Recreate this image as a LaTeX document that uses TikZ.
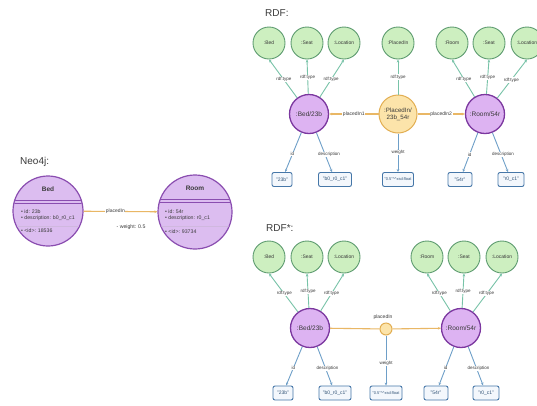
\documentclass[tikz,border=0pt]{standalone}
\usepackage{fontspec}
\setmainfont{Liberation Sans}
\usetikzlibrary{arrows.meta}
\definecolor{gfill}{HTML}{CDEFC0}
\definecolor{gborder}{HTML}{5E9C70}
\definecolor{gedgec}{HTML}{78C3A8}
\definecolor{pfill}{HTML}{DDB3F2}
\definecolor{pborder}{HTML}{7B379F}
\definecolor{nfill}{HTML}{DCBDF0}
\definecolor{nborder}{HTML}{8A4DB0}
\definecolor{ofill}{HTML}{FCE4AA}
\definecolor{oborder}{HTML}{E2AE52}
\definecolor{oedgec}{HTML}{E9B765}
\definecolor{bborder}{HTML}{4677A8}
\definecolor{bfill}{HTML}{F3F7FC}
\definecolor{bedgec}{HTML}{6E9FC8}
\definecolor{txt}{HTML}{3A3A3A}
\begin{document}
\begin{tikzpicture}[x=1pt,y=-1pt,
  gnode/.style={circle, draw=gborder, fill=gfill, line width=0.9pt, minimum size=32pt, inner sep=0pt, text=txt, font=\fontsize{5}{6}\selectfont},
  pnode/.style={circle, draw=pborder, fill=pfill, line width=1.3pt, minimum size=39pt, inner sep=0pt, text=txt, font=\fontsize{6.5}{7.5}\selectfont},
  onode/.style={circle, draw=oborder, fill=ofill, line width=1pt, minimum size=38pt, inner sep=0pt, align=center, text=txt, font=\fontsize{6.2}{7.2}\selectfont},
  odot/.style={circle, draw=oborder, fill=ofill, line width=1pt, minimum size=12pt, inner sep=0pt},
  lit/.style={draw=bborder, fill=bfill, rounded corners=2pt, line width=0.9pt, minimum height=14pt, inner sep=1pt, text=bborder!70!black, font=\fontsize{5}{6}\selectfont},
  gedge/.style={draw=gedgec, line width=0.9pt, -{Stealth[length=3pt,width=2.6pt]}},
  bedge/.style={draw=bedgec, line width=0.9pt, -{Stealth[length=3pt,width=2.6pt]}},
  oedge/.style={draw=oedgec, line width=1.1pt},
  oarrow/.style={oedge, -{Stealth[length=3pt,width=2.6pt]}},
  elab/.style={font=\fontsize{4.5}{5}\selectfont, fill=white, inner sep=0.5pt, text=txt},
  olab/.style={elab, font=\fontsize{5}{6}\selectfont},
  ttl/.style={anchor=west, inner sep=0pt, text=txt},
  neo/.style={circle, draw=nborder, fill=nfill, line width=1.2pt, inner sep=0pt},
  neot/.style={anchor=west, inner sep=0pt, align=left, text=txt, font=\fontsize{5.2}{6.2}\selectfont},
  neoh/.style={text=txt, font=\bfseries\fontsize{6.5}{7.5}\selectfont},
]
\clip (0,0) rectangle (537,405);
\fill[white] (0,0) rectangle (537,405);

% ---------------- Neo4j ----------------
\node[ttl, font=\fontsize{10}{12}\selectfont] (tneo) at (20,162) {Neo4j:};
\node[neo, minimum size=70pt] (nbed) at (48,211) {};
\node[neo, minimum size=74pt] (nroom) at (195,212) {};
\begin{scope}
  \clip (48,211) circle (34.4);
  \draw[nborder, line width=0.6pt] (0,200) -- (100,200);
  \draw[nborder, line width=0.6pt] (0,203) -- (100,203);
  \draw[nborder!40, line width=0.4pt] (0,226) -- (100,226);
\end{scope}
\begin{scope}
  \clip (195,212) circle (36.4);
  \draw[nborder, line width=0.6pt] (150,199) -- (250,199);
  \draw[nborder, line width=0.6pt] (150,202) -- (250,202);
  \draw[nborder!40, line width=0.4pt] (150,226) -- (250,226);
\end{scope}
\node[neoh] (nbedt) at (48,189) {Bed};
\node[neoh] (nroomt) at (195,188) {Room};
\node[neot] (nbedp) at (21,215) {\textbullet\ id: 23b\\\textbullet\ description: b0\_r0\_c1};
\node[neot] (nbedi) at (21,231) {\textbullet\ \textless id\textgreater: 18536};
\node[neot] (nroomp) at (165,215) {\textbullet\ id: 54r\\\textbullet\ description: r0\_c1};
\node[neot] (nroomi) at (165,232) {\textbullet\ \textless id\textgreater: 93734};
\draw[oarrow] (nbed) -- node[olab, pos=0.43] (nlab) {placedIn} (nroom);
\node[text=txt, font=\fontsize{5.2}{6}\selectfont, inner sep=0pt] (nweight) at (131,227) {- weight: 0.5};

% ---------------- RDF ----------------
\node[ttl, font=\fontsize{10}{12}\selectfont] (trdf) at (265,13) {RDF:};
\node[gnode] (g1) at (269,43) {:Bed};
\node[gnode] (g2) at (307,43) {:Seat};
\node[gnode] (g3) at (344,43) {:Location};
\node[gnode] (g4) at (398,43) {:PlacedIn};
\node[gnode] (g5) at (452,43) {:Room};
\node[gnode] (g6) at (489,43) {:Seat};
\node[gnode] (g7) at (527,43) {:Location};
\node[pnode] (p1) at (309,114) {:Bed/23b};
\node[onode] (o1) at (398,114) {:PlacedIn/\\23b\_54r};
\node[pnode] (p2) at (485,114) {:Room/54r};
\foreach \g in {g1,g2,g3}
  \draw[gedge] (p1) -- node[elab, pos=0.47] {rdf:type} (\g.south);
\draw[gedge] (o1) -- node[elab, pos=0.5] {rdf:type} (g4.south);
\foreach \g in {g5,g6,g7}
  \draw[gedge] (p2) -- node[elab, pos=0.47] {rdf:type} (\g.south);
\draw[oarrow] (o1) -- node[olab] {placedIn1} (p1);
\draw[oarrow] (o1) -- node[olab] {placedIn2} (p2);
\node[lit, minimum width=20pt] (b1) at (282,179.5) {"23b"};
\node[lit, minimum width=33pt] (b2) at (335,179.5) {"b0\_r0\_c1"};
\node[lit, minimum width=31pt, font=\fontsize{4}{5}\selectfont] (b3) at (398,179.5) {"0.5"\textasciicircum\textasciicircum xsd:float};
\node[lit, minimum width=24pt] (b4) at (460,179.5) {"54r"};
\node[lit, minimum width=26pt] (b5) at (511,179.5) {"r0\_c1"};
\draw[bedge] (p1) -- node[elab, pos=0.55] {id} (b1);
\draw[bedge] (p1) -- node[elab, pos=0.55, xshift=4pt] {description} (b2);
\draw[bedge] (o1) -- node[elab, pos=0.5] {weight} (b3);
\draw[bedge] (p2) -- node[elab, pos=0.55] {id} (b4);
\draw[bedge] (p2) -- node[elab, pos=0.55, xshift=2pt] {description} (b5);

% ---------------- RDF* ----------------
\node[ttl, font=\fontsize{10}{12}\selectfont] (trdfs) at (266,228) {RDF*:};
\node[gnode] (h1) at (269,257) {:Bed};
\node[gnode] (h2) at (307,257) {:Seat};
\node[gnode] (h3) at (344,257) {:Location};
\node[gnode] (h5) at (427,257) {:Room};
\node[gnode] (h6) at (464,257) {:Seat};
\node[gnode] (h7) at (502,257) {:Location};
\node[pnode] (q1) at (310,328) {:Bed/23b};
\node[pnode] (q2) at (461,328) {:Room/54r};
\node[odot] (od) at (386,329) {};
\node[olab, fill=none] (odl) at (383,317) {placedIn};
\draw[oedge] (q1) -- (od);
\draw[oarrow] (od) -- (q2);
\foreach \g in {h1,h2,h3}
  \draw[gedge] (q1) -- node[elab, pos=0.47] {rdf:type} (\g.south);
\foreach \g in {h5,h6,h7}
  \draw[gedge] (q2) -- node[elab, pos=0.47] {rdf:type} (\g.south);
\node[lit, minimum width=20pt] (c1) at (283,393) {"23b"};
\node[lit, minimum width=32pt] (c2) at (335,393) {"b0\_r0\_c1"};
\node[lit, minimum width=32pt, font=\fontsize{4}{5}\selectfont] (c3) at (386,393) {"0.5"\textasciicircum\textasciicircum xsd:float};
\node[lit, minimum width=24pt] (c4) at (436,393) {"54r"};
\node[lit, minimum width=26pt] (c5) at (486,393) {"r0\_c1"};
\draw[bedge] (q1) -- node[elab, pos=0.55] {id} (c1);
\draw[bedge] (q1) -- node[elab, pos=0.55, xshift=2pt] {description} (c2);
\draw[bedge] (od) -- node[elab, pos=0.55] {weight} (c3);
\draw[bedge] (q2) -- node[elab, pos=0.55] {id} (c4);
\draw[bedge] (q2) -- node[elab, pos=0.55, xshift=2pt] {description} (c5);
\end{tikzpicture}
\end{document}
